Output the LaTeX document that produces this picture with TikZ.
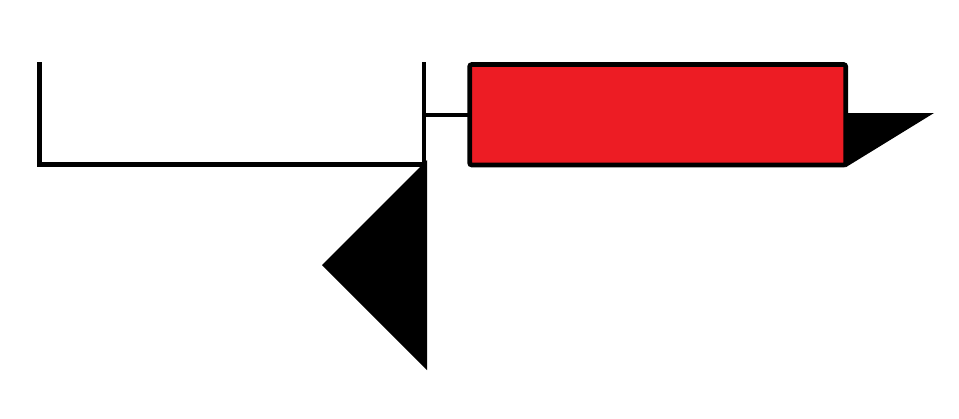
\documentclass[tikz,border=0pt]{standalone}
\definecolor{genered}{HTML}{ED1C24}
\tikzset{
  bar/.style={line width=4.8pt, line cap=butt, line join=miter},
  arrowhead/.style={fill=black, draw=none},
  exon/.style={fill=genered, draw=black, line width=4.6pt, rounded corners=2pt}
}
\begin{document}
\begin{tikzpicture}[x=1pt,y=-1pt]
  \useasboundingbox (0,0) rectangle (959,418);
  % left bracket
  \coordinate (lt) at (39.5,62);
  \coordinate (lb) at (39.5,164.5);
  \coordinate (rb) at (424,164.5);
  \coordinate (rt) at (424,62);
  \draw[bar] (lt) -- (lb) -- (rb);
  \draw[bar] (rt) -- (424,166);
  % left triangle
  \coordinate (ta) at (427,160);
  \coordinate (tb) at (322,265);
  \coordinate (tc) at (427,370);
  \fill[arrowhead] (ta) -- (tb) -- (tc) -- cycle;
  % connector
  \coordinate (cl) at (424,115);
  \coordinate (cr) at (469.7,115);
  \draw[bar] (cl) -- (cr);
  % red box
  \draw[exon] (469.7,64.5) rectangle (845.7,165);
  % right triangle
  \coordinate (ra) at (845.7,113);
  \coordinate (rb2) at (934,113);
  \coordinate (rc) at (845.7,167.3);
  \fill[arrowhead] (ra) -- (rb2) -- (rc) -- cycle;
\end{tikzpicture}
\end{document}
